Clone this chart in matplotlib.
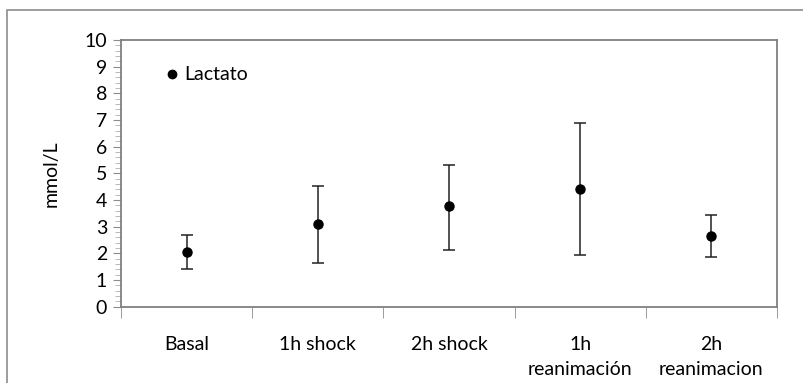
import matplotlib.pyplot as plt
import matplotlib.patches as patches
import numpy as np

categorias = ["Basal", "1h shock", "2h shock", "1h\nreanimación", "2h\nreanimacion"]
lactato = [2.04, 3.11, 3.78, 4.43, 2.65]
err_sup = [2.68, 4.54, 5.33, 6.88, 3.44]
err_inf = [1.40, 1.65, 2.14, 1.94, 1.86]

plt.rcParams['font.family'] = ['Lato', 'DejaVu Sans']

fig = plt.figure(figsize=(8.04, 3.83), dpi=100)
ax = fig.add_axes([0.1505, 0.1992, 0.8159, 0.6964])

# borde exterior del grafico
fig.patches.append(patches.Rectangle((7 / 804, -0.05), 1.1, 1 - 10 / 383 + 0.05,
                                     transform=fig.transFigure, fill=False,
                                     edgecolor='#8c8c8c', linewidth=1.2))

x = np.arange(1, len(categorias) + 1)
y = np.array(lactato)
yerr = [y - np.array(err_inf), np.array(err_sup) - y]
ax.errorbar(x, y, yerr=yerr, fmt='o', color='black', ecolor='#222222',
            markersize=6.5, elinewidth=1.1, capsize=4, capthick=1.1)
ax.plot([], [], 'o', color='black', markersize=6, label='Lactato')

ax.set_xlim(0.5, len(categorias) + 0.5)
ax.set_ylim(0, 10)
ax.set_yticks(range(0, 11))
ax.set_yticks(np.arange(0, 10.01, 0.2), minor=True)
ax.set_xticks(x)
ax.set_xticklabels(categorias, linespacing=1.6)
ax.set_xticks(np.arange(0.5, len(categorias) + 1, 1), minor=True)

ax.tick_params(axis='y', which='major', length=6, color='#8c8c8c', labelsize=14, pad=4)
ax.tick_params(axis='y', which='minor', length=4, color='#b0b0b0')
ax.tick_params(axis='x', which='major', length=0, labelsize=14, pad=21)
ax.tick_params(axis='x', which='minor', length=8, color='#8c8c8c')
for s in ax.spines.values():
    s.set_color('#808080')
    s.set_linewidth(1.3)

ax.set_ylabel('mmol/L', fontsize=14, labelpad=18)

ax.legend(loc='upper left', bbox_to_anchor=(0.048, 0.93), frameon=False,
          fontsize=14, handletextpad=0.05, borderaxespad=0, handlelength=1.2)

plt.savefig('out.png', dpi=100)
